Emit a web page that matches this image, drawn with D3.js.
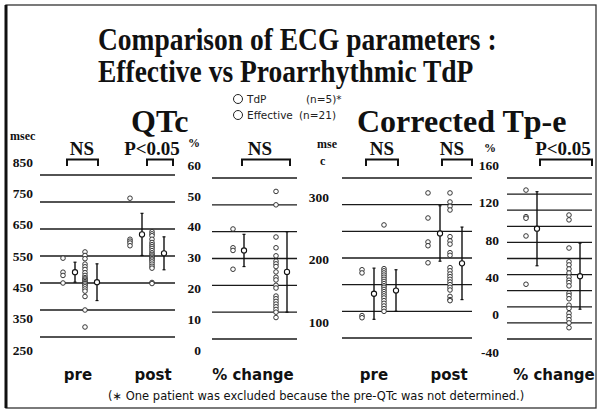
<!DOCTYPE html>
<html><head><meta charset="utf-8">
<script src="https://cdn.jsdelivr.net/npm/d3@7"></script>
<style>body{margin:0;background:#fff}svg{display:block}</style>
</head><body><svg id="c" width="599" height="413"></svg>
<script>
// ---------- data ----------
const groups = ["TdP", "Effective"];
const groupN = ["(n=5)*", "(n=21)"];

// QTc (msec)
const qtcPreTdp  = [542, 490, 478, 450];
const qtcPreEff  = [565, 552, 540, 520, 510, 500, 488, 478, 470, 465, 460, 455, 450, 448, 442, 436, 428, 420, 400, 350, 287];
const qtcPostTdp = [764, 612, 605, 598, 588];
const qtcPostEff = [640, 632, 625, 612, 600, 592, 585, 578, 570, 562, 556, 550, 545, 540, 535, 528, 520, 512, 505, 452, 448];
const qtcPreMean = [490, 453],  qtcPreSD = [37, 68];
const qtcPostMean = [630, 560], qtcPostSD = [78, 61];

// QTc % change
const qtcChgTdp = [41, 34, 33, 26];
const qtcChgEff = [55, 50, 38, 34, 31, 29, 28, 27, 25, 23, 22, 20, 19, 16, 15, 14, 13, 12, 11, 10, 8];
const qtcChgMean = [33, 25], qtcChgSD = [6, 15];

// Corrected Tp-e (msec)
const tpePreTdp  = [178, 172, 92, 88];
const tpePreEff  = [262, 180, 176, 172, 168, 164, 160, 156, 152, 148, 145, 141, 137, 133, 129, 125, 120, 115, 110, 105, 100];
const tpePostTdp = [322, 275, 230, 223, 191];
const tpePostEff = [322, 305, 297, 290, 240, 232, 226, 210, 205, 182, 176, 170, 165, 160, 155, 150, 145, 140, 128, 122, 120];
const tpePreMean = [133, 139],  tpePreSD = [48, 39];
const tpePostMean = [246, 190], tpePostSD = [52, 68];

// Corrected Tp-e % change
const tpeChgTdp = [145, 112, 110, 88, 28];
const tpeChgEff = [114, 108, 73, 56, 52, 47, 42, 37, 33, 30, 26, 17, 14, 10, 2, -2, -8, -12, -16, -20, -26];
const tpeChgMean = [97, 38], tpeChgSD = [46, 41];

// tick labels / grid values
const qtcTicks = [850, 750, 650, 550, 450, 350, 250];
const qtcGrid = [850, 750, 650, 550, 450, 350, 250];
const qtcPctTicks = [60, 50, 40, 30, 20, 10, 0];
const qtcPctGrid = [60, 50, 40, 30, 20, 10, 0];
const tpeTicks = [300, 200, 100];
const tpeGrid = [350, 300, 250, 200, 150, 100, 50];
const tpePctTicks = [160, 120, 80, 40, 0, -40];
const tpePctGrid = [160, 140, 120, 100, 80, 60, 40, 20, 0, -20, -40];

const phaseLabels = ["pre", "post", "% change"];
const titleLines = ["Comparison of ECG parameters :", "Effective vs Proarrhythmic TdP"];
const footnote = "(\u2217 One patient was excluded because the pre-QTc was not determined.)";

// ---------- drawing ----------
const svg = d3.select("#c");
const SERIF = "'Liberation Serif','Times New Roman',serif";
const SANS = "'DejaVu Sans',sans-serif";

svg.append("rect").attr("x", 0).attr("y", 0).attr("width", 599).attr("height", 413).attr("fill", "#fff");
// frame
svg.append("rect").attr("x", 6).attr("y", 5).attr("width", 590).attr("height", 403)
  .attr("fill", "none").attr("stroke", "#333").attr("stroke-width", 1.3);
svg.append("line").attr("x1", 6).attr("x2", 6).attr("y1", 5).attr("y2", 408)
  .attr("stroke", "#111").attr("stroke-width", 3);

// titles
svg.selectAll("text.title").data(titleLines).join("text").attr("class", "title")
  .attr("transform", (d, i) => `translate(98,${50 + i * 32}) scale(1,1.12)`)
  .attr("font-family", SERIF).attr("font-weight", "bold").attr("font-size", 27.5)
  .attr("fill", "#111").text(d => d);

svg.append("text").attr("x", 131).attr("y", 132).attr("font-family", SERIF)
  .attr("font-weight", "bold").attr("font-size", 32).attr("fill", "#111").text("QTc");
svg.append("text").attr("x", 357).attr("y", 132).attr("font-family", SERIF)
  .attr("font-weight", "bold").attr("font-size", 32).attr("fill", "#111").text("Corrected Tp-e");

// legend
const lg = svg.append("g");
groups.forEach((g, i) => {
  const yy = 99 + i * 16;
  lg.append("circle").attr("cx", 238).attr("cy", yy).attr("r", 4.5)
    .attr("fill", "#fff").attr("stroke", "#222").attr("stroke-width", 1);
  lg.append("text").attr("x", 247).attr("y", yy).attr("dy", "0.35em")
    .attr("font-family", SANS).attr("font-size", 10.5).attr("fill", "#222").text(g);
  lg.append("text").attr("x", i === 0 ? 306 : 299).attr("y", yy).attr("dy", "0.35em")
    .attr("font-family", SANS).attr("font-size", 10.5).attr("fill", "#222").text(groupN[i]);
});

function drawPanel(p) {
  const g = svg.append("g");
  const y = d3.scaleLinear().domain(p.domain).range(p.gridRange);
  const yl = d3.scaleLinear().domain(p.labDomain).range(p.labRange);
  // grid lines
  g.selectAll("line.grid").data(p.grid).join("line").attr("class", "grid")
    .attr("x1", p.gridX[0]).attr("x2", p.gridX[1])
    .attr("y1", d => y(d)).attr("y2", d => y(d))
    .attr("stroke", "#1a1a1a").attr("stroke-width", 1.3);
  // tick labels via axis
  const ax = g.append("g").attr("transform", `translate(${p.labX},0)`)
    .call(d3.axisLeft(yl).tickValues(p.ticks).tickSize(0).tickPadding(0).tickFormat(d => d));
  ax.select(".domain").remove();
  ax.selectAll("text").attr("font-family", SERIF).attr("font-weight", "bold")
    .attr("font-size", 13.5).attr("fill", "#111");
  // unit label
  p.unit.forEach(u => g.append("text").attr("x", u[1]).attr("y", u[2]).attr("font-family", SERIF)
    .attr("font-weight", "bold").attr("font-size", 12).attr("fill", "#111").text(u[0]));

  const x = d3.scalePoint().domain(p.phases).range(p.centers);
  p.phases.forEach((ph, pi) => {
    const set = p.data[pi];
    [0, 1].forEach(gi => {
      const gx = x(ph) + (gi === 0 ? -1 : 1) * p.groupOff;
      const px = gx - p.inner, mx = gx + p.inner;
      // error bar
      const m = set.mean[gi], s = set.sd[gi];
      g.append("line").attr("x1", mx).attr("x2", mx).attr("y1", y(m + s)).attr("y2", y(m - s))
        .attr("stroke", "#111").attr("stroke-width", 1.4);
      [m + s, m - s].forEach(v => g.append("line").attr("x1", mx - 1.5).attr("x2", mx + 1.5)
        .attr("y1", y(v)).attr("y2", y(v)).attr("stroke", "#111").attr("stroke-width", 1.2));
      g.append("circle").attr("cx", mx).attr("cy", y(m)).attr("r", 2.6)
        .attr("fill", "#fff").attr("stroke", "#111").attr("stroke-width", 1.1);
      // individual points
      g.selectAll(null).data(set.pts[gi]).join("circle")
        .attr("cx", px).attr("cy", d => y(d)).attr("r", 2.3)
        .attr("fill", "#fff").attr("stroke", "#222").attr("stroke-width", 0.9);
    });
  });
  // significance brackets
  p.sig.forEach(b => {
    const bx0 = x(b.phase) + b.span[0], bx1 = x(b.phase) + b.span[1];
    g.append("path").attr("d", `M${bx0},166V159.5H${bx1}V166`).attr("fill", "none")
      .attr("stroke", "#111").attr("stroke-width", 2);
    g.append("text").attr("x", x(b.phase) + b.textDx).attr("y", 155).attr("text-anchor", "middle")
      .attr("font-family", SERIF).attr("font-weight", "bold").attr("font-size", 19).attr("fill", "#111")
      .text(b.label);
  });
  // category labels
  p.phases.forEach((ph, pi) => g.append("text").attr("x", x(ph) + p.catDx[pi]).attr("y", 380)
    .attr("text-anchor", "middle").attr("font-family", SANS).attr("font-weight", "bold")
    .attr("font-size", 15).attr("fill", "#111").text(p.catLabels[pi]));
}

drawPanel({
  domain: [850, 250], gridRange: [175, 337], grid: qtcGrid,
  labDomain: [850, 250], labRange: [162, 350], ticks: qtcTicks, labX: 33,
  unit: [["msec", 10, 140]], gridX: [40, 175],
  phases: ["pre", "post"], centers: [80, 147], groupOff: 11, inner: 6,
  data: [{pts: [qtcPreTdp, qtcPreEff], mean: qtcPreMean, sd: qtcPreSD},
         {pts: [qtcPostTdp, qtcPostEff], mean: qtcPostMean, sd: qtcPostSD}],
  sig: [{phase: "pre", span: [-13, 18], textDx: 2, label: "NS"},
        {phase: "post", span: [0, 26], textDx: 5, label: "P<0.05"}],
  catLabels: [phaseLabels[0], phaseLabels[1]], catDx: [-2, 6]
});
drawPanel({
  domain: [60, 0], gridRange: [178, 339], grid: qtcPctGrid,
  labDomain: [60, 0], labRange: [165, 350], ticks: qtcPctTicks, labX: 201,
  unit: [["%", 188, 147]], gridX: [212, 297],
  phases: ["chg"], centers: [260, 260], groupOff: 21.5, inner: 5.5,
  data: [{pts: [qtcChgTdp, qtcChgEff], mean: qtcChgMean, sd: qtcChgSD}],
  sig: [{phase: "chg", span: [-18, 30], textDx: 0, label: "NS"}],
  catLabels: [phaseLabels[2]], catDx: [-7]
});
drawPanel({
  domain: [350, 50], gridRange: [178, 338], grid: tpeGrid,
  labDomain: [300, 100], labRange: [197, 322], ticks: tpeTicks, labX: 329,
  unit: [["mse", 317, 148], ["c", 320, 165]], gridX: [342, 472],
  phases: ["pre", "post"], centers: [379, 445], groupOff: 11, inner: 6,
  data: [{pts: [tpePreTdp, tpePreEff], mean: tpePreMean, sd: tpePreSD},
         {pts: [tpePostTdp, tpePostEff], mean: tpePostMean, sd: tpePostSD}],
  sig: [{phase: "pre", span: [-13, 19], textDx: 3, label: "NS"},
        {phase: "post", span: [-3, 27], textDx: 7, label: "NS"}],
  catLabels: [phaseLabels[0], phaseLabels[1]], catDx: [-5, 4]
});
drawPanel({
  domain: [160, -40], gridRange: [178, 339], grid: tpePctGrid,
  labDomain: [160, -40], labRange: [165, 352], ticks: tpePctTicks, labX: 499,
  unit: [["%", 484, 152]], gridX: [507, 592],
  phases: ["chg"], centers: [553, 553], groupOff: 21.5, inner: 5.5,
  data: [{pts: [tpeChgTdp, tpeChgEff], mean: tpeChgMean, sd: tpeChgSD}],
  sig: [{phase: "chg", span: [-13, 39], textDx: 10, label: "P<0.05"}],
  catLabels: [phaseLabels[2]], catDx: [1]
});

svg.append("text").attr("x", 108).attr("y", 400).attr("font-family", SANS)
  .attr("font-size", 11.5).attr("fill", "#111").text(footnote);
</script></body></html>
